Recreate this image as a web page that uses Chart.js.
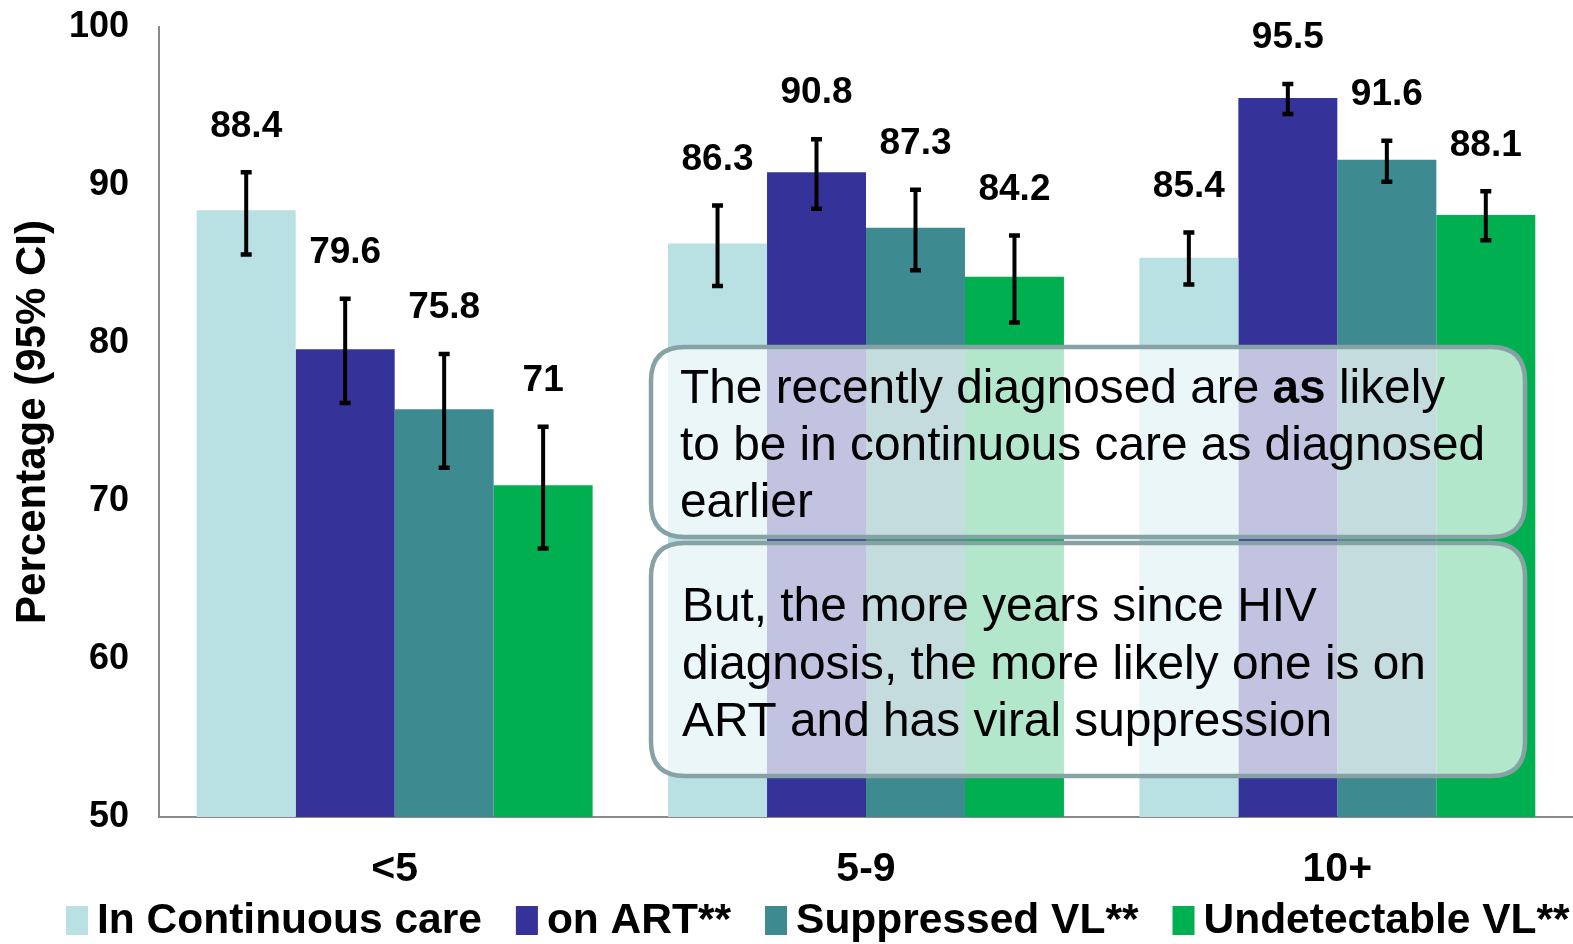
<!DOCTYPE html>
<html><head><meta charset="utf-8">
<script src="https://cdn.jsdelivr.net/npm/chart.js@4/dist/chart.umd.min.js"></script>
<style>html,body{margin:0;padding:0;background:#fff;} #wrap{width:1573px;height:944px;position:relative;}</style>
</head><body><div id="wrap"><canvas id="c"></canvas></div>
<script>
const categories = ['<5', '5-9', '10+'];
const seriesNames = ['In Continuous care', 'on ART**', 'Suppressed VL**', 'Undetectable VL**'];
const continuousCare = [88.4, 86.3, 85.4];
const onART = [79.6, 90.8, 95.5];
const suppressedVL = [75.8, 87.3, 91.6];
const undetectableVL = [71, 84.2, 88.1];
const continuousCareCI = [[85.6, 90.8], [83.6, 88.7], [83.7, 87.0]];
const onARTCI = [[76.2, 82.8], [88.5, 92.9], [94.5, 96.4]];
const suppressedVLCI = [[72.1, 79.3], [84.6, 89.7], [90.2, 92.8]];
const undetectableVLCI = [[67.0, 74.7], [81.3, 86.8], [86.5, 89.6]];
const yTicks = [50, 60, 70, 80, 90, 100];
const noteTop = ['The recently diagnosed are |as| likely', 'to be in continuous care as diagnosed', 'earlier'];
const noteBottom = ['But, the more years since HIV', 'diagnosis, the more likely one is on', 'ART and has viral suppression'];

const colors = ['#b9e0e3', '#353399', '#3d8a90', '#00b050'];
const seriesValues = [continuousCare, onART, suppressedVL, undetectableVL];
const seriesCI = [continuousCareCI, onARTCI, suppressedVLCI, undetectableVLCI];
const FONT = '"Liberation Sans", Arial, sans-serif';

const errorBars = {
  id: 'errorBars',
  afterDatasetsDraw(chart) {
    const ctx = chart.ctx, y = chart.scales.y;
    ctx.save();
    chart.data.datasets.forEach((ds, di) => {
      const meta = chart.getDatasetMeta(di);
      meta.data.forEach((bar, i) => {
        const [lo, hi] = seriesCI[di][i];
        const yl = y.getPixelForValue(lo), yh = y.getPixelForValue(hi);
        ctx.strokeStyle = '#000';
        ctx.lineWidth = 4;
        ctx.beginPath();
        ctx.moveTo(bar.x, yl); ctx.lineTo(bar.x, yh);
        ctx.stroke();
        ctx.lineWidth = 4.5;
        ctx.beginPath();
        ctx.moveTo(bar.x - 5.5, yl); ctx.lineTo(bar.x + 5.5, yl);
        ctx.moveTo(bar.x - 5.5, yh); ctx.lineTo(bar.x + 5.5, yh);
        ctx.stroke();
        ctx.fillStyle = '#000';
        ctx.font = 'bold 37px ' + FONT;
        ctx.textAlign = 'center';
        ctx.textBaseline = 'middle';
        ctx.fillText(String(ds.data[i]), bar.x, yh - 46);
      });
    });
    ctx.restore();
  }
};

function roundRect(ctx, x, y, w, h, r) {
  ctx.beginPath();
  ctx.moveTo(x + r, y);
  ctx.lineTo(x + w - r, y); ctx.quadraticCurveTo(x + w, y, x + w, y + r);
  ctx.lineTo(x + w, y + h - r); ctx.quadraticCurveTo(x + w, y + h, x + w - r, y + h);
  ctx.lineTo(x + r, y + h); ctx.quadraticCurveTo(x, y + h, x, y + h - r);
  ctx.lineTo(x, y + r); ctx.quadraticCurveTo(x, y, x + r, y);
  ctx.closePath();
}

function drawNote(ctx, box, lines, tx, firstBaseline, lh) {
  roundRect(ctx, box[0], box[1], box[2], box[3], 34);
  ctx.fillStyle = 'rgba(255,255,255,0.7)';
  ctx.fill();
  ctx.lineWidth = 4.5;
  ctx.strokeStyle = '#87a2a5';
  ctx.stroke();
  ctx.fillStyle = '#000';
  ctx.textAlign = 'left';
  ctx.textBaseline = 'alphabetic';
  lines.forEach((line, li) => {
    const parts = line.split('|');
    let x = tx;
    parts.forEach((p, pi) => {
      ctx.font = (pi % 2 === 1 ? 'bold ' : '') + '47.8px ' + FONT;
      ctx.fillText(p, x, firstBaseline + li * lh);
      x += ctx.measureText(p).width;
    });
  });
}

const overlay = {
  id: 'overlay',
  afterDraw(chart) {
    const ctx = chart.ctx;
    ctx.save();
    drawNote(ctx, [651, 347, 874, 190], noteTop, 680, 403, 57);
    drawNote(ctx, [651, 543, 874, 233], noteBottom, 682, 621, 57.5);
    // legend
    ctx.font = 'bold 42.5px ' + FONT;
    ctx.textBaseline = 'middle';
    ctx.textAlign = 'left';
    let x = 66;
    const cy = 920;
    seriesNames.forEach((name, i) => {
      ctx.fillStyle = colors[i];
      ctx.fillRect(x, cy - 14, 22, 29);
      x += 31;
      ctx.fillStyle = '#000';
      ctx.fillText(name, x, cy + 1);
      x += ctx.measureText(name).width + 34;
    });
    ctx.restore();
  }
};

new Chart(document.getElementById('c'), {
  type: 'bar',
  data: {
    labels: categories,
    datasets: seriesNames.map((n, i) => ({
      label: n,
      data: seriesValues[i],
      backgroundColor: colors[i],
      borderWidth: 0,
      categoryPercentage: 0.84,
      barPercentage: 1.0
    }))
  },
  options: {
    responsive: true,
    maintainAspectRatio: false,
    animation: false,
    layout: { padding: { top: 27, bottom: 55, left: 0, right: 0 } },
    plugins: { legend: { display: false }, tooltip: { enabled: false } },
    scales: {
      x: {
        grid: { display: false, drawTicks: false },
        border: { color: '#8a8a8a', width: 2 },
        ticks: { color: '#000', font: { family: FONT, size: 41, weight: 'bold' }, padding: 28 },
        afterFit(s) { s.height = 72; s.paddingLeft = 0; s.paddingRight = 0; }
      },
      y: {
        min: 50, max: 100,
        afterBuildTicks(s) { s.ticks = yTicks.map(v => ({ value: v })); },
        grid: { display: false, drawTicks: false },
        border: { color: '#8a8a8a', width: 2 },
        ticks: { color: '#000', font: { family: FONT, size: 36, weight: 'bold' }, padding: 30 },
        title: { display: true, text: 'Percentage (95% CI)', color: '#000',
                 font: { family: FONT, size: 42, weight: 'bold', lineHeight: 1 }, padding: { top: 12, bottom: 0 } },
        afterFit(s) { s.width = 159; s.paddingTop = 0; s.paddingBottom = 0; }
      }
    }
  },
  plugins: [errorBars, overlay]
});
</script>
</body></html>
